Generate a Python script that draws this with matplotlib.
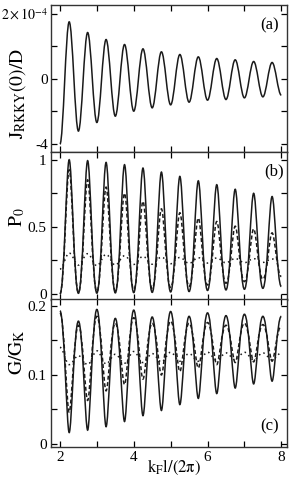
import matplotlib
matplotlib.use('Agg')
import matplotlib.pyplot as plt
from matplotlib.path import Path
from matplotlib.patches import PathPatch

plt.rcParams['font.family'] = ['Liberation Serif', 'DejaVu Serif']
plt.rcParams['mathtext.fontset'] = 'stix'

# --- data: extrema (x in k_F l / 2pi) ---
x_ext = [2.0, 2.25, 2.5, 2.75, 3.0, 3.25, 3.5, 3.75, 4.0, 4.25, 4.5, 4.75, 5.0,
         5.25, 5.5, 5.75, 6.0, 6.25, 6.5, 6.75, 7.0, 7.25, 7.5, 7.75, 8.0]

# (a) J_RKKY(0)/D in units of 1e-4
j_rkky = [-2.0, 1.745, -1.60, 1.418, -1.337, 1.204, -1.143, 1.051, -0.99, 0.918,
          -0.888, 0.827, -0.796, 0.745, -0.714, 0.673, -0.653, 0.622, -0.633,
          0.582, -0.582, 0.531, -0.551, 0.50, -0.50]

# (b) P_0
p0_solid = [0.0, 1.0, 0.005, 0.993, 0.006, 0.98, 0.008, 0.963, 0.01, 0.938,
            0.012, 0.908, 0.015, 0.876, 0.018, 0.843, 0.026, 0.814, 0.03, 0.78,
            0.035, 0.75, 0.042, 0.726, 0.055]
p0_dashed = [0.0, 0.925, 0.012, 0.85, 0.018, 0.796, 0.025, 0.75, 0.033, 0.69,
             0.04, 0.634, 0.048, 0.605, 0.057, 0.565, 0.067, 0.54, 0.08, 0.505,
             0.092, 0.485, 0.11, 0.455, 0.13]
p0_dotted = [0.185, 0.305, 0.215, 0.30, 0.21, 0.295, 0.215, 0.285, 0.22, 0.28,
             0.222, 0.275, 0.225, 0.272, 0.228, 0.27, 0.23, 0.268, 0.232, 0.265,
             0.233, 0.263, 0.235, 0.26, 0.238]

# (c) G/G_K
g_solid = [0.193, 0.0165, 0.178, 0.020, 0.195, 0.025, 0.182, 0.0325, 0.194, 0.041,
           0.184, 0.0485, 0.192, 0.057, 0.185, 0.066, 0.190, 0.073, 0.186, 0.081,
           0.188, 0.087, 0.185, 0.091, 0.185]
g_dashed = [0.19, 0.046, 0.172, 0.063, 0.185, 0.077, 0.175, 0.086, 0.183, 0.094,
            0.175, 0.10, 0.178, 0.105, 0.175, 0.11, 0.176, 0.115, 0.172, 0.118,
            0.175, 0.119, 0.173, 0.12, 0.171]
g_dotted = [0.14, 0.115, 0.128, 0.115, 0.135, 0.116, 0.13, 0.117, 0.134, 0.118,
            0.131, 0.119, 0.133, 0.12, 0.131, 0.12, 0.133, 0.121, 0.132, 0.122,
            0.133, 0.122, 0.132, 0.122, 0.132]


def smooth_curve(ax, xs, ys, a_hi=0.36, a_lo=0.36, **kw):
    """Cubic Bezier through extrema with flat tangents (a_* = handle fraction)."""
    verts = [(xs[0], ys[0])]
    codes = [Path.MOVETO]
    for i in range(len(xs) - 1):
        x0, y0, x1, y1 = xs[i], ys[i], xs[i + 1], ys[i + 1]
        h = x1 - x0
        k0 = a_hi if y0 > y1 else a_lo
        k1 = a_hi if y1 > y0 else a_lo
        verts += [(x0 + k0 * h, y0), (x1 - k1 * h, y1), (x1, y1)]
        codes += [Path.CURVE4] * 3
    ax.add_patch(PathPatch(Path(verts, codes), fill=False, color='#1a1a1a', **kw))


fig = plt.figure(figsize=(2.91, 4.86), dpi=100)
left, width, height = 0.175, 0.812, 0.3037
ax_a = fig.add_axes([left, 0.6866, width, height])
ax_b = fig.add_axes([left, 0.3833, width, height])
ax_c = fig.add_axes([left, 0.0809, width, height])

lw = 1.1
dash = (0, (2.6, 1.6))
dot = (0, (1.0, 2.2))

smooth_curve(ax_a, x_ext, j_rkky, lw=lw)

smooth_curve(ax_b, x_ext, p0_solid, 0.30, 0.47, lw=lw)
smooth_curve(ax_b, x_ext, p0_dashed, 0.30, 0.47, lw=lw, linestyle=dash)
smooth_curve(ax_b, x_ext, p0_dotted, lw=lw, linestyle=dot)

smooth_curve(ax_c, x_ext, g_solid, 0.46, 0.27, lw=lw)
smooth_curve(ax_c, x_ext, g_dashed, 0.46, 0.27, lw=lw, linestyle=dash)
smooth_curve(ax_c, x_ext, g_dotted, lw=lw, linestyle=dot)

for ax in (ax_a, ax_b, ax_c):
    ax.set_xlim(1.755, 8.16)
    ax.set_xticks([2, 4, 6, 8])
    ax.set_xticks([3, 5, 7], minor=True)
    ax.tick_params(which='both', direction='in', top=True, right=True,
                   length=4, width=0.9, labelsize=11, pad=3)
    for s in ax.spines.values():
        s.set_linewidth(1.0)
        s.set_color('#333333')

ax_a.tick_params(labelbottom=False)
ax_b.tick_params(labelbottom=False)

ax_a.set_ylim(-2.25, 2.27)
ax_a.set_yticks([-2, 0, 2])
ax_a.set_yticklabels(['-4', '0', r'$2\times10^{-4}$'])
ax_a.set_yticks([-1, 1], minor=True)
ax_a.tick_params(axis='y', pad=2)
ax_a.get_yticklabels()[2].set_fontsize(10)

ax_b.set_ylim(-0.043, 1.057)
ax_b.set_yticks([0, 0.5, 1])
ax_b.set_yticklabels(['0', '0.5', '1'])
ax_b.set_yticks([0.25, 0.75], minor=True)

ax_c.set_ylim(-0.004, 0.210)
ax_c.set_yticks([0, 0.1, 0.2])
ax_c.set_yticklabels(['0', '0.1', '0.2'])
ax_c.set_yticks([0.05, 0.15], minor=True)

ax_a.set_ylabel(r'$\mathrm{J_{RKKY}(0)/D}$', fontsize=14)
ax_a.yaxis.set_label_coords(-0.095, 0.40)
ax_b.set_ylabel(r'$\mathrm{P_0}$', fontsize=14)
ax_b.yaxis.set_label_coords(-0.1, 0.56)
ax_c.set_ylabel(r'$\mathrm{G/G_K}$', fontsize=14)
ax_c.yaxis.set_label_coords(-0.1, 0.64)
ax_c.set_xlabel(r'$\mathrm{k_F l/(2\pi)}$', fontsize=12)
ax_c.xaxis.set_label_coords(0.52, -0.075)

ax_a.text(0.965, 0.86, '(a)', transform=ax_a.transAxes, ha='right', va='center', fontsize=12)
ax_b.text(0.985, 0.87, '(b)', transform=ax_b.transAxes, ha='right', va='center', fontsize=12)
ax_c.text(0.965, 0.14, '(c)', transform=ax_c.transAxes, ha='right', va='center', fontsize=12)

fig.savefig('out.png', dpi=100)
